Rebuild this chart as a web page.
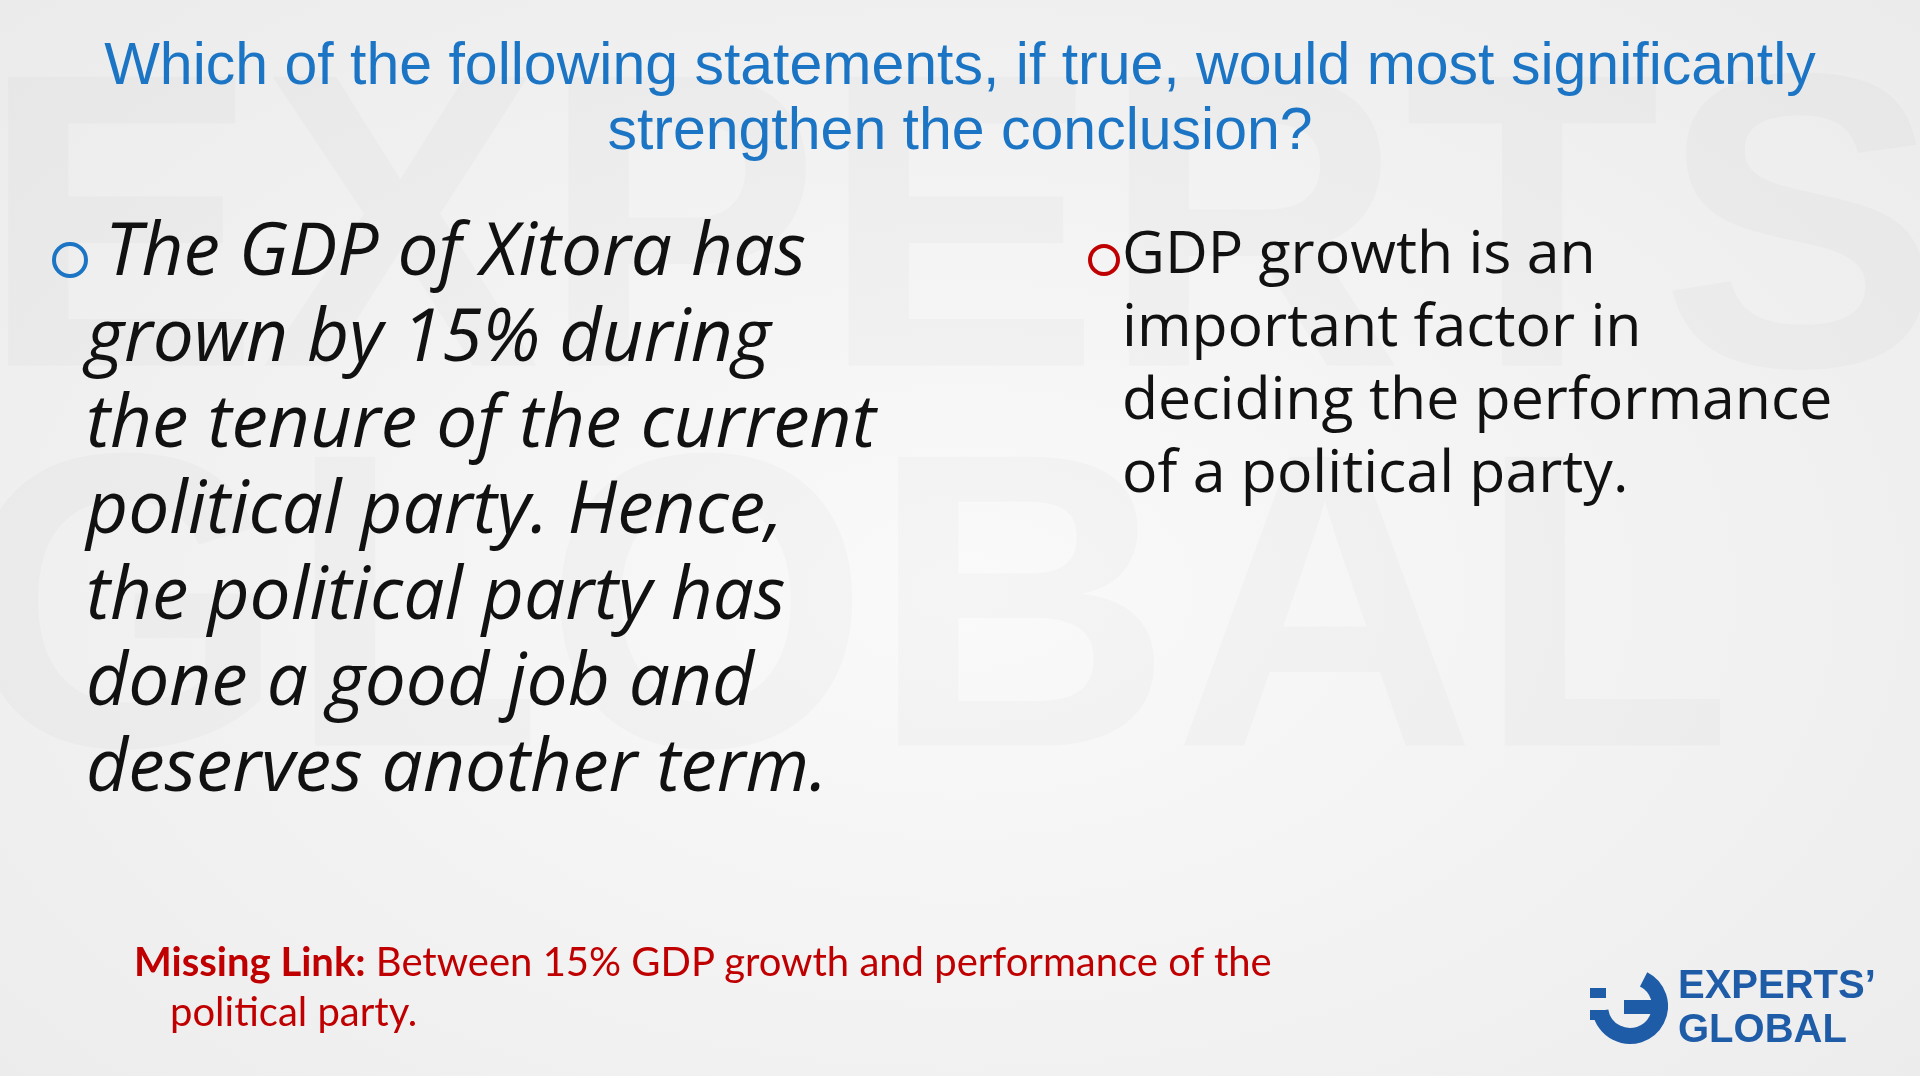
<!DOCTYPE html>
<html>
<head>
<meta charset="utf-8">
<script src="https://cdn.jsdelivr.net/npm/chart.js@4"></script>
<style>
  html, body { margin: 0; padding: 0; }
  body {
    width: 1920px; height: 1076px; overflow: hidden; position: relative;
    background: radial-gradient(ellipse at 50% 55%, #fafafa 0%, #f1f1f1 60%, #ebebeb 100%);
    font-family: "Open Sans", Lato, sans-serif;
  }
  #wm { position: absolute; left: 0; top: 0; }
  #title { position: absolute; left: 0; width: 1920px; top: 32px; text-align: center;
           font-family: "Liberation Sans", Arial, sans-serif; font-size: 59px; line-height: 65px; color: #1b75c4; }
  .bullet { position: absolute; }
  #left { left: 86px; top: 204px; width: 880px; font-style: italic; font-size: 73px; line-height: 86px; color: #111; }
  #right { left: 1122px; top: 214px; width: 790px; font-size: 59px; line-height: 73px; color: #111; }
  .dot { display: inline-block; width: 28px; height: 28px; border: 4px solid; border-radius: 50%; }
  #link { position: absolute; left: 134px; top: 936px; font-family: Lato, sans-serif; font-size: 40px; line-height: 50px; color: #c00000; }
  #logo { position: absolute; left: 1588px; top: 958px; width: 300px; height: 92px; }
  #logo span { position: absolute; left: 90px; font-family: "Liberation Sans", sans-serif; font-weight: bold; font-size: 40px; color: #1f5ca8; line-height: 1; }
</style>
</head>
<body>
<canvas id="wm" width="1920" height="1076"></canvas>

<div id="title">Which of the following statements, if true, would most significantly<br>strengthen the conclusion?</div>

<div id="left" class="bullet"><span class="dot" style="border-color:#1b75c4;position:absolute;left:-34px;top:38px;"></span>&nbsp;The GDP of Xitora has<br>grown by 15% during<br>the tenure of the current<br>political party. Hence,<br>the political party has<br>done a good job and<br>deserves another term.</div>

<div id="right" class="bullet"><span class="dot" style="border-color:#c00000;width:24px;height:24px;position:absolute;left:-34px;top:30px;"></span>GDP growth is an<br>important factor in<br>deciding the performance<br>of a political party.</div>

<div id="link"><b>Missing Link:</b> Between 15% GDP growth and performance of the<br><span style="padding-left:36px">political party.</span></div>

<div id="logo">
  <canvas id="mark" width="80" height="92" style="position:absolute;left:0;top:0;"></canvas>
  <span style="top:6px;">EXPERTS’</span>
  <span style="top:50px;">GLOBAL</span>
</div>

<script>
// slide has no plotted data; Chart.js is loaded but the watermark and logo mark are drawn by hand
const logoColor = '#1f5ca8';

const wm = document.getElementById('wm').getContext('2d');
wm.fillStyle = 'rgba(0,0,0,0.018)';
wm.font = 'bold 420px "Liberation Sans"';
wm.textBaseline = 'top';
wm.fillText('EXPERTS', -20, 40);
wm.fillText('GLOBAL', -40, 420);

const ctx = document.getElementById('mark').getContext('2d');
ctx.strokeStyle = logoColor; ctx.lineWidth = 16;
ctx.beginPath(); ctx.arc(42, 48, 30, -Math.PI * 0.35, Math.PI * 0.95); ctx.stroke();
ctx.fillStyle = logoColor;
ctx.fillRect(2, 30, 16, 10); ctx.fillRect(2, 52, 16, 10);
ctx.fillRect(36, 42, 34, 14);
</script>
</body>
</html>
